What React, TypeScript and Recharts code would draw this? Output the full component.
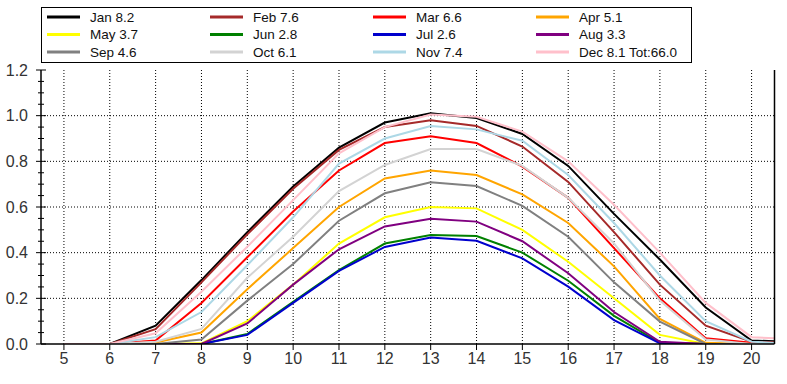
import React from "react";
import { LineChart, Line, XAxis, YAxis, CartesianGrid } from "recharts";

const hours = [5, 6, 7, 8, 9, 10, 11, 12, 13, 14, 15, 16, 17, 18, 19, 20, 21];
const xTicks = [5, 6, 7, 8, 9, 10, 11, 12, 13, 14, 15, 16, 17, 18, 19, 20];
const yTicks = [0, 0.05, 0.1, 0.15, 0.2, 0.25, 0.3, 0.35, 0.4, 0.45, 0.5, 0.55, 0.6, 0.65, 0.7, 0.75, 0.8, 0.85, 0.9, 0.95, 1.0, 1.05, 1.1, 1.15, 1.2];
const gridY = [0.2, 0.4, 0.6, 0.8, 1.0];

const jan = [0, 0, 0.08, 0.28, 0.49, 0.69, 0.86, 0.97, 1.01, 0.99, 0.92, 0.78, 0.57, 0.37, 0.16, 0.015, 0.01];
const feb = [0, 0, 0.065, 0.27, 0.48, 0.68, 0.85, 0.95, 0.98, 0.955, 0.865, 0.71, 0.49, 0.26, 0.08, 0.01, 0.005];
const mar = [0, 0, 0.015, 0.18, 0.38, 0.58, 0.76, 0.88, 0.91, 0.88, 0.777, 0.64, 0.42, 0.2, 0.025, 0.005, 0];
const apr = [0, 0, 0.007, 0.05, 0.24, 0.42, 0.6, 0.725, 0.76, 0.74, 0.655, 0.53, 0.34, 0.11, 0.005, 0, 0];
const may = [0, 0, 0, 0.003, 0.1, 0.26, 0.44, 0.555, 0.6, 0.594, 0.5, 0.36, 0.2, 0.04, 0, 0, 0];
const jun = [0, 0, 0, 0, 0.044, 0.185, 0.324, 0.44, 0.477, 0.473, 0.4, 0.277, 0.123, 0.005, 0, 0, 0];
const jul = [0, 0, 0, 0, 0.04, 0.18, 0.32, 0.425, 0.466, 0.452, 0.375, 0.251, 0.105, 0.003, 0, 0, 0];
const aug = [0, 0, 0, 0, 0.09, 0.26, 0.415, 0.515, 0.549, 0.536, 0.45, 0.31, 0.14, 0.01, 0, 0, 0];
const sep = [0, 0, 0, 0.02, 0.19, 0.35, 0.54, 0.66, 0.708, 0.692, 0.605, 0.47, 0.27, 0.098, 0, 0, 0];
const oct = [0, 0, 0.01, 0.066, 0.29, 0.47, 0.67, 0.784, 0.854, 0.854, 0.78, 0.64, 0.44, 0.19, 0.02, 0, 0];
const nov = [0, 0, 0.03, 0.14, 0.345, 0.555, 0.79, 0.9, 0.955, 0.94, 0.89, 0.74, 0.53, 0.3, 0.1, 0.01, 0];
const dec = [0, 0, 0.047, 0.229, 0.426, 0.63, 0.835, 0.95, 1.005, 0.995, 0.93, 0.8, 0.61, 0.4, 0.18, 0.03, 0.02];

const seriesNames = ["Jan", "Feb", "Mar", "Apr", "May", "Jun", "Jul", "Aug", "Sep", "Oct", "Nov", "Dec"];
const seriesValues = [jan, feb, mar, apr, may, jun, jul, aug, sep, oct, nov, dec];
const legendLabels = [
  "Jan 8.2", "Feb 7.6", "Mar 6.6", "Apr 5.1",
  "May 3.7", "Jun 2.8", "Jul 2.6", "Aug 3.3",
  "Sep 4.6", "Oct 6.1", "Nov 7.4", "Dec 8.1 Tot:66.0",
];
const colors = ["#000000", "#a52a2a", "#ff0000", "#ffa500", "#ffff00", "#008000", "#0000cd", "#800080", "#808080", "#d3d3d3", "#add8e6", "#ffc0cb"];

const data = hours.map((h, i) => {
  const row: Record<string, number> = { hour: h };
  seriesNames.forEach((n, k) => {
    row[n] = seriesValues[k][i];
  });
  return row;
});

const FONT = "'Liberation Sans', Arial, sans-serif";
const W = 787;
const H = 384;
const LEFT_AXIS_X = 41;
const RIGHT_AXIS_X = 774.5;

const isMajor = (v: number) => Math.abs(v * 5 - Math.round(v * 5)) < 1e-6;

const LeftTick = (props: any) => {
  const { y, payload } = props;
  const v = payload.value as number;
  const major = isMajor(v);
  return (
    <g>
      <line x1={major ? LEFT_AXIS_X - 5 : LEFT_AXIS_X - 3} x2={major ? LEFT_AXIS_X + 5 : LEFT_AXIS_X + 3} y1={y} y2={y} stroke="#000" strokeWidth={1} />
      {major && (
        <text x={LEFT_AXIS_X - 13} y={y} textAnchor="end" dominantBaseline="central" fontSize={16} fill="#333" fontFamily={FONT}>
          {v.toFixed(1)}
        </text>
      )}
    </g>
  );
};

const RightTick = (props: any) => {
  const { y } = props;
  return <line x1={RIGHT_AXIS_X - 4} x2={RIGHT_AXIS_X} y1={y} y2={y} stroke="#000" strokeWidth={1} />;
};

const LegendBox = () => {
  const colW = 163;
  const rowH = 17.5;
  return (
    <svg width={652} height={56} style={{ position: "absolute", left: 41, top: 7 }}>
      <rect x={0.5} y={0.5} width={650} height={55} fill="#fff" stroke="#000" strokeWidth={1} />
      {legendLabels.map((label, i) => {
        const col = i % 4;
        const row = Math.floor(i / 4);
        const x = 6 + col * colW;
        const y = 10 + row * rowH;
        return (
          <g key={label}>
            <line x1={x} x2={x + 33} y1={y} y2={y} stroke={colors[i]} strokeWidth={3} />
            <text x={x + 43} y={y} dominantBaseline="central" fontSize={13.5} fill="#111" fontFamily={FONT}>
              {label}
            </text>
          </g>
        );
      })}
    </svg>
  );
};

export default function App() {
  return (
    <div style={{ position: "absolute", left: 0, top: 0, width: W, height: H, background: "#fff", fontFamily: FONT }}>
      <LineChart width={W} height={H} data={data} margin={{ top: 70, right: 0, bottom: 0, left: 0 }}>
        <CartesianGrid
          horizontal={true}
          vertical={true}
          horizontalValues={gridY}
          verticalValues={xTicks}
          stroke="#000"
          strokeDasharray="1 2"
        />
        <XAxis
          dataKey="hour"
          type="number"
          domain={[4.5, 20.5]}
          ticks={xTicks}
          allowDataOverflow
          interval={0}
          height={40}
          axisLine={{ stroke: "#000", strokeWidth: 1.5 }}
          tickLine={{ stroke: "#000" }}
          tickSize={6}
          tickMargin={3}
          tick={{ fontSize: 16, fill: "#333", fontFamily: FONT }}
        />
        <XAxis
          xAxisId="top"
          orientation="top"
          dataKey="hour"
          type="number"
          domain={[4.5, 20.5]}
          allowDataOverflow
          height={0}
          tick={false}
          tickLine={false}
          axisLine={{ stroke: "#000", strokeWidth: 1.5 }}
        />
        <YAxis
          type="number"
          domain={[0, 1.2]}
          ticks={yTicks}
          interval={0}
          width={41}
          allowDataOverflow
          axisLine={{ stroke: "#000", strokeWidth: 1.5 }}
          tickLine={false}
          tick={<LeftTick />}
        />
        <YAxis
          yAxisId="right"
          orientation="right"
          type="number"
          domain={[0, 1.2]}
          ticks={yTicks}
          interval={0}
          width={12.5}
          axisLine={{ stroke: "#000", strokeWidth: 1.5 }}
          tickLine={false}
          tick={<RightTick />}
        />
        {seriesNames.map((n, k) => (
          <Line
            key={n}
            type="linear"
            dataKey={n}
            stroke={colors[k]}
            strokeWidth={2}
            dot={false}
            activeDot={false}
            isAnimationActive={false}
          />
        ))}
      </LineChart>
      <LegendBox />
    </div>
  );
}
